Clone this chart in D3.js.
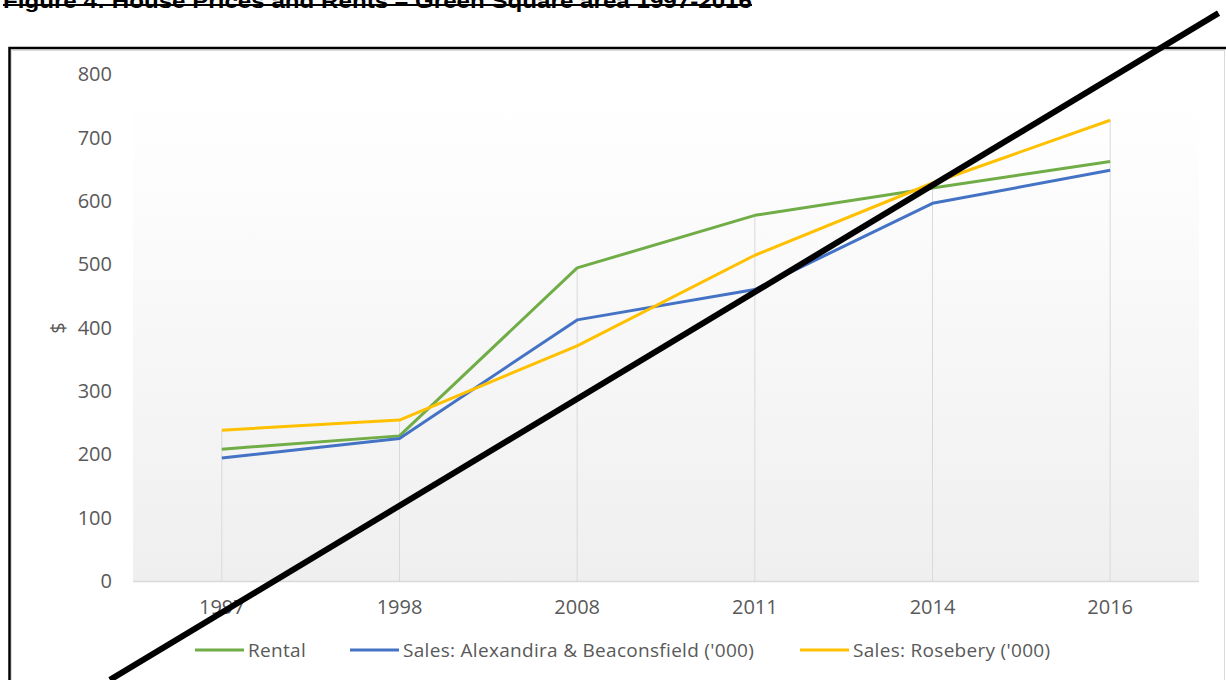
<!DOCTYPE html>
<html>
<head>
<meta charset="utf-8">
<script src="https://cdnjs.cloudflare.com/ajax/libs/d3/7.8.5/d3.min.js"></script>
<style>
  body { margin: 0; background: #fff; }
  svg { display: block; }
</style>
</head>
<body>
<svg id="canvas" width="1226" height="680"></svg>
<script>
var years = ["1997", "1998", "2008", "2011", "2014", "2016"];
var rental = [208, 229, 494, 577, 620, 662];
var salesAlex = [194, 225, 412, 460, 596, 648];
var salesRose = [238, 254, 371, 514, 628, 727];
var yTicks = [0, 100, 200, 300, 400, 500, 600, 700, 800];
var seriesNames = ["Rental", "Sales: Alexandira & Beaconsfield ('000)", "Sales: Rosebery ('000)"];
var seriesColors = ["#70ad47", "#4472c4", "#ffc000"];
// the thick black stroke across the figure, in (category index, value) units
var strike = [[-0.63, -156], [5.61, 896]];

var svg = d3.select("#canvas"),
    plot = {left: 133, right: 1199, top: 74, bottom: 581};

var x = d3.scaleBand()
  .domain(years)
  .range([plot.left, plot.right])
  .paddingInner(0);

var xc = function(d) { return x(d) + x.bandwidth() / 2; };

var xi = d3.scaleLinear()
  .domain([0, years.length - 1])
  .range([xc(years[0]), xc(years[years.length - 1])]);

var y = d3.scaleLinear()
  .domain([0, 800])
  .range([plot.bottom, plot.top]);

// title (cropped at the top of the page)
svg.append("text")
  .attr("x", 3)
  .attr("y", 8)
  .attr("textLength", 749)
  .attr("lengthAdjust", "spacingAndGlyphs")
  .style("font-family", "Liberation Sans, Arial, sans-serif")
  .style("font-weight", "bold")
  .style("font-size", "20px")
  .style("fill", "#000")
  .text("Figure 4: House Prices and Rents \u2013 Green Square area 1997-2016");

svg.append("line")
  .attr("x1", 3).attr("x2", 752)
  .attr("y1", 5).attr("y2", 5)
  .style("stroke", "#000")
  .style("stroke-width", 2);

// frame + chart area border
svg.append("rect")
  .attr("x", 11.5).attr("y", 50.5)
  .attr("width", 1213).attr("height", 700)
  .style("fill", "#fff")
  .style("stroke", "#d9d9d9");

svg.append("rect")
  .attr("x", 9.5).attr("y", 48)
  .attr("width", 1240).attr("height", 700)
  .style("fill", "none")
  .style("stroke", "#000")
  .style("stroke-width", 2.5);

// plot area gradient
var grad = svg.append("defs")
  .append("linearGradient")
  .attr("id", "plot-grad")
  .attr("x1", 0).attr("y1", 0)
  .attr("x2", 0).attr("y2", 1);
grad.append("stop").attr("offset", "0%").attr("stop-color", "#ffffff");
grad.append("stop").attr("offset", "12%").attr("stop-color", "#fefefe");
grad.append("stop").attr("offset", "100%").attr("stop-color", "#efefef");

svg.append("rect")
  .attr("x", plot.left).attr("y", plot.top)
  .attr("width", plot.right - plot.left)
  .attr("height", plot.bottom - plot.top)
  .style("fill", "url(#plot-grad)");

// drop lines
var maxes = years.map(function(d, i) {
  return d3.max([rental[i], salesAlex[i], salesRose[i]]);
});

svg.append("g")
  .selectAll("line")
  .data(years)
  .enter()
  .append("line")
  .attr("x1", xc).attr("x2", xc)
  .attr("y1", function(d, i) { return y(maxes[i]); })
  .attr("y2", y(0))
  .style("stroke", "#d9d9d9")
  .style("stroke-width", 1);

// baseline
svg.append("line")
  .attr("x1", plot.left).attr("x2", plot.right)
  .attr("y1", y(0) + 0.5).attr("y2", y(0) + 0.5)
  .style("stroke", "#d9d9d9")
  .style("stroke-width", 1.5);

// y tick labels
svg.append("g")
  .selectAll("text")
  .data(yTicks)
  .enter()
  .append("text")
  .attr("x", 112)
  .attr("y", function(d) { return y(d); })
  .attr("dy", "0.36em")
  .attr("text-anchor", "end")
  .style("font-family", "Open Sans, sans-serif")
  .style("font-size", "20px")
  .style("fill", "#595959")
  .text(function(d) { return d; });

svg.append("text")
  .attr("transform", "translate(65,328) rotate(-90)")
  .attr("text-anchor", "middle")
  .style("font-family", "Open Sans, sans-serif")
  .style("font-size", "20px")
  .style("fill", "#595959")
  .text("$");

// x labels
svg.append("g")
  .selectAll("text")
  .data(years)
  .enter()
  .append("text")
  .attr("x", xc)
  .attr("y", 614)
  .attr("text-anchor", "middle")
  .style("font-family", "Open Sans, sans-serif")
  .style("font-size", "20px")
  .style("fill", "#595959")
  .text(function(d) { return d; });

// series lines
var series = [rental, salesAlex, salesRose];
var line = d3.line()
  .x(function(d, i) { return xc(years[i]); })
  .y(function(d) { return y(d); });

svg.append("g")
  .selectAll("path")
  .data(series)
  .enter()
  .append("path")
  .attr("d", line)
  .style("fill", "none")
  .style("stroke", function(d, i) { return seriesColors[i]; })
  .style("stroke-width", 3)
  .style("stroke-linejoin", "round");

// legend
var legendX = [195, 350, 800];
var legend = svg.append("g")
  .selectAll("g")
  .data(seriesNames)
  .enter()
  .append("g")
  .attr("transform", function(d, i) { return "translate(" + legendX[i] + ",650)"; });

legend.append("line")
  .attr("x1", 0).attr("x2", 49)
  .style("stroke", function(d, i) { return seriesColors[i]; })
  .style("stroke-width", 3);

legend.append("text")
  .attr("x", 53)
  .attr("dy", "0.36em")
  .style("font-family", "Open Sans, sans-serif")
  .style("font-size", "19px")
  .style("letter-spacing", "0.3px")
  .style("fill", "#595959")
  .text(function(d) { return d; });

// black strike line
svg.append("line")
  .attr("x1", xi(strike[0][0])).attr("y1", y(strike[0][1]))
  .attr("x2", xi(strike[1][0])).attr("y2", y(strike[1][1]))
  .style("stroke", "#000")
  .style("stroke-width", 6);
</script>
</body>
</html>
